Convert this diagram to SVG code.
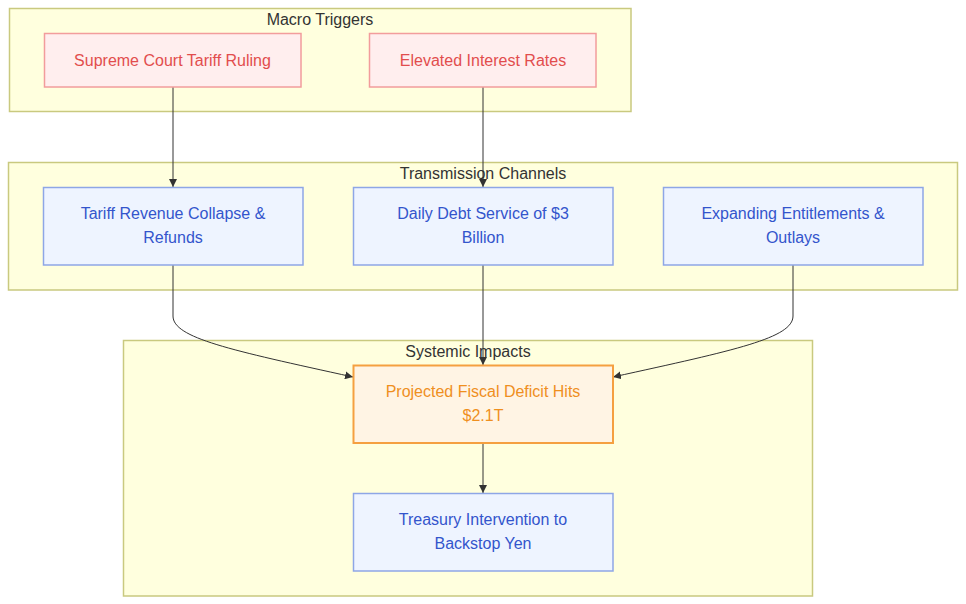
<svg xmlns="http://www.w3.org/2000/svg" width="966" height="604" viewBox="0 0 966 604">
<defs>
<style>
.cl{fill:#ffffde;stroke:#c9c97f;stroke-width:1.5}
.ct{font-family:"Liberation Sans",Arial,sans-serif;font-size:16px;fill:#333;text-anchor:middle}
.t{font-family:"Liberation Sans",Arial,sans-serif;font-size:16px;text-anchor:middle}
.red rect{fill:#ffeeee;stroke:#f29c9c;stroke-width:1.5}
.red text{fill:#e24d4d}
.blue rect{fill:#eef4ff;stroke:#8ea6e6;stroke-width:1.5}
.blue text{fill:#3355cc}
.org rect{fill:#fff4e4;stroke:#f5a040;stroke-width:2}
.org text{fill:#ef8f1e}
.e{fill:none;stroke:#333;stroke-width:1;marker-end:url(#ah)}
</style>
<marker id="ah" viewBox="0 0 10 10" refX="10" refY="5" markerWidth="8" markerHeight="8" markerUnits="userSpaceOnUse" orient="auto">
<path d="M0,0 L10,5 L0,10 z" fill="#333"/>
</marker>
</defs>
<g id="clusters">
<rect class="cl" x="9.5" y="8.5" width="621.5" height="103"/>
<text class="ct" x="320" y="25">Macro Triggers</text>
<rect class="cl" x="8.5" y="162.5" width="949" height="127.5"/>
<text class="ct" x="483" y="179">Transmission Channels</text>
<rect class="cl" x="123.5" y="340.5" width="689" height="255.5"/>
<text class="ct" x="468" y="357">Systemic Impacts</text>
</g>
<g id="connectors">
<path class="e" d="M173,87 V187"/>
<path class="e" d="M483,87 V187"/>
<path class="e" d="M173,265 V316 C173,338 230,350 353,377"/>
<path class="e" d="M483,265 V365"/>
<path class="e" d="M793,265 V316 C793,338 736,350 613,377"/>
<path class="e" d="M483,443 V493"/>
</g>
<g id="supreme" class="red">
<rect x="44.5" y="33.5" width="256.5" height="53.5"/>
<text class="t" x="172.5" y="65.5">Supreme Court Tariff Ruling</text>
</g>
<g id="rates" class="red">
<rect x="369.5" y="33.5" width="226.5" height="53.5"/>
<text class="t" x="483" y="65.5">Elevated Interest Rates</text>
</g>
<g id="tariff" class="blue">
<rect x="43.5" y="187.5" width="259.5" height="77.5"/>
<text class="t" x="173" y="219">Tariff Revenue Collapse &amp;</text>
<text class="t" x="173" y="243">Refunds</text>
</g>
<g id="debt" class="blue">
<rect x="353.5" y="187.5" width="259.5" height="77.5"/>
<text class="t" x="483" y="219">Daily Debt Service of $3</text>
<text class="t" x="483" y="243">Billion</text>
</g>
<g id="entitlements" class="blue">
<rect x="663.5" y="187.5" width="259.5" height="77.5"/>
<text class="t" x="793" y="219">Expanding Entitlements &amp;</text>
<text class="t" x="793" y="243">Outlays</text>
</g>
<g id="deficit" class="org">
<rect x="353.5" y="365.5" width="259.5" height="77.5"/>
<text class="t" x="483" y="397">Projected Fiscal Deficit Hits</text>
<text class="t" x="483" y="421">$2.1T</text>
</g>
<g id="treasury" class="blue">
<rect x="353.5" y="493.5" width="259.5" height="77.5"/>
<text class="t" x="483" y="525">Treasury Intervention to</text>
<text class="t" x="483" y="549">Backstop Yen</text>
</g>
</svg>
